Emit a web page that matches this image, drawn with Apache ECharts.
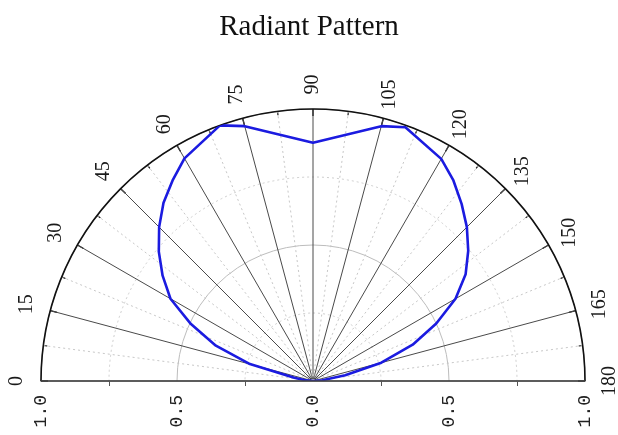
<!DOCTYPE html>
<html>
<head>
<meta charset="utf-8">
<script src="https://cdn.jsdelivr.net/npm/echarts@6/dist/echarts.min.js"></script>
<style>
html,body{margin:0;padding:0;background:#fff;}
#chart{width:618px;height:435px;}
</style>
</head>
<body>
<div id="chart"></div>
<script>
// ---- data ----
var titleText = 'Radiant Pattern';
var angleDeg = [0, 5, 10, 15, 20, 25, 30, 35, 40, 45, 50, 55, 60, 70, 75, 90, 105, 110, 120, 125, 130, 135, 140, 145, 150, 155, 160, 165, 170, 175, 180];
var intensity = [0, 0.025, 0.07, 0.24, 0.38, 0.495, 0.605, 0.675, 0.74, 0.80, 0.855, 0.90, 0.945, 1.0, 0.97, 0.876, 0.97, 0.993, 0.943, 0.90, 0.85, 0.80, 0.745, 0.685, 0.605, 0.50, 0.39, 0.26, 0.12, 0.035, 0];
var angleTicks = [0, 15, 30, 45, 60, 75, 90, 105, 120, 135, 150, 165, 180];
var angleTickLabels = ['0', '15', '30', '45', '60', '75', '90', '105', '120', '135', '150', '165', '180'];
var radialTicks = [-1, -0.5, 0, 0.5, 1];

// ---- chart ----
var CX = 313, CY = 381, R = 272;
var labelR = 1.09;
var chart = echarts.init(document.getElementById('chart'), null, {renderer: 'canvas'});

var curve = angleDeg.map(function (a, i) { return [intensity[i], a]; });
var labelData = angleTicks.map(function (a, i) { return {value: [labelR, a], name: angleTickLabels[i]}; });

var option = {
  backgroundColor: '#ffffff',
  animation: false,
  title: {
    text: titleText,
    left: 'center',
    top: 13,
    padding: 0,
    z: 20,
    textStyle: {fontFamily: 'Liberation Serif', fontSize: 29, fontWeight: 'normal', color: '#111'}
  },
  // white mask hiding the lower half of full-circle minor rings
  graphic: [{
    type: 'rect', z: 5, silent: true,
    shape: {x: 0, y: CY + 1, width: 618, height: 435 - CY},
    style: {fill: '#ffffff'}
  }],
  polar: {center: [CX, CY], radius: R},
  angleAxis: {
    type: 'value',
    min: 0, max: 180, interval: 15,
    startAngle: 180, endAngle: 0, clockwise: true,
    axisLine: {show: true, lineStyle: {color: '#111', width: 1.6}},
    axisTick: {show: true, inside: true, length: 7, lineStyle: {color: '#111', width: 1.4}},
    minorTick: {show: true, splitNumber: 2, length: 4, lineStyle: {color: '#111', width: 1.2}},
    axisLabel: {show: false},
    splitLine: {show: true, lineStyle: {color: '#4a4a4a', width: 1}},
    minorSplitLine: {show: true, lineStyle: {color: '#c8c8c8', width: 1, type: [2, 3]}}
  },
  radiusAxis: {
    type: 'value', min: 0, max: 1, interval: 0.5,
    axisLine: {show: false}, axisTick: {show: false}, axisLabel: {show: false},
    splitLine: {show: true, lineStyle: {color: '#bdbdbd', width: 1}},
    minorTick: {show: false, splitNumber: 2},
    minorSplitLine: {show: true, lineStyle: {color: '#cfcfcf', width: 1, type: [2, 3]}}
  },
  grid: {left: CX - R, right: 618 - (CX + R), bottom: 435 - CY, top: 60},
  xAxis: {
    type: 'value', min: -1, max: 1, interval: 0.5, z: 10,
    axisLine: {show: true, onZero: false, lineStyle: {color: '#444', width: 1.5}},
    axisTick: {show: false},
    minorTick: {show: true, splitNumber: 2, length: 5, lineStyle: {color: '#555', width: 1}},
    splitLine: {show: false},
    axisLabel: {
      show: true, rotate: 90, margin: 14,
      fontFamily: 'Liberation Mono', fontSize: 18, color: '#222',
      formatter: function (v) {
        for (var i = 0; i < radialTicks.length; i++) {
          if (Math.abs(v - radialTicks[i]) < 1e-6) return Math.abs(v).toFixed(1);
        }
        return '';
      }
    }
  },
  yAxis: {type: 'value', min: 0, max: 1, show: false},
  series: [
    {
      type: 'line', coordinateSystem: 'polar', data: curve,
      showSymbol: false, symbol: 'none', smooth: false, z: 6,
      lineStyle: {color: '#1b1be0', width: 2.6}
    },
    {
      type: 'scatter', coordinateSystem: 'polar', data: labelData,
      symbolSize: 0, silent: true, clip: false, z: 12,
      itemStyle: {color: '#222', opacity: 1},
      label: {
        show: true, position: 'inside', rotate: 90,
        formatter: function (p) { return p.name; },
        fontFamily: 'Liberation Serif', fontSize: 20, color: '#1a1a1a',
        textBorderWidth: 0, opacity: 1
      }
    }
  ]
};
chart.setOption(option);
</script>
</body>
</html>
